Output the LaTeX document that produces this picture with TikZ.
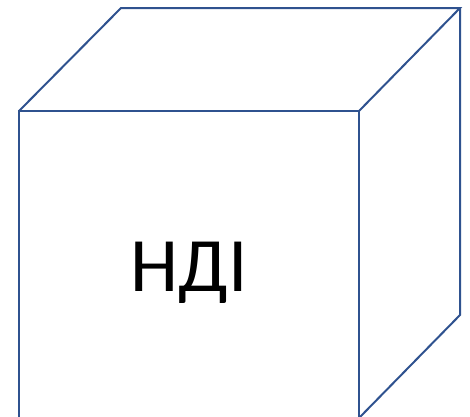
\documentclass[tikz,border=0pt]{standalone}
\usepackage{fontspec}
\setmainfont{Carlito}
\definecolor{edgeblue}{HTML}{2F528F}
\begin{document}
\begin{tikzpicture}[x=1pt,y=-1pt,
  edge/.style={draw=edgeblue,line width=2pt,line join=miter},
  label/.style={font=\fontsize{77}{80}\selectfont,text=black,inner sep=0pt,anchor=base}]
\useasboundingbox (0,0) rectangle (470,416);
\clip (0,0) rectangle (470,416);
% corners
\coordinate (ftl) at (19,111);
\coordinate (ftr) at (359,111);
\coordinate (fbl) at (19,418);
\coordinate (fbr) at (359,418);
\coordinate (btl) at (121,8);
\coordinate (btr) at (460,8);
\coordinate (bbr) at (460,315);
% front face
\draw[edge] (ftl) -- (ftr) -- (fbr) -- (fbl) -- cycle;
% top face
\draw[edge] (ftl) -- (btl) -- (btr) -- (ftr);
% right face
\draw[edge] (btr) -- (bbr) -- (fbr);
\node[label] (t) at (189,291.5) {НДІ};
\end{tikzpicture}
\end{document}
